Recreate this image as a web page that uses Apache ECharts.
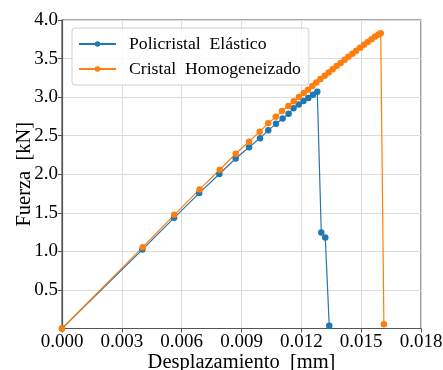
<!DOCTYPE html>
<html>
<head>
<meta charset="utf-8">
<script src="https://cdn.jsdelivr.net/npm/echarts@6/dist/echarts.min.js"></script>
<style>html,body{margin:0;padding:0;background:#fff}#c{width:443px;height:370px}</style>
</head>
<body>
<div id="c"></div>
<script>
var seriesNames = ['Policristal  Elástico', 'Cristal  Homogeneizado'];
var policristalX = [0, 0.00403, 0.00562, 0.00688, 0.00789, 0.00871, 0.00938, 0.00993, 0.01034, 0.01073, 0.01106, 0.01136, 0.01161, 0.01187, 0.01211, 0.01235, 0.01258, 0.01280, 0.01300, 0.01320, 0.01340];
var policristalY = [0, 1.023, 1.435, 1.756, 2.003, 2.204, 2.349, 2.468, 2.569, 2.656, 2.723, 2.786, 2.855, 2.905, 2.950, 2.990, 3.030, 3.070, 1.244, 1.179, 0.036];
var cristalX = [0, 0.00405, 0.00563, 0.00690, 0.00791, 0.00871, 0.00938, 0.00991, 0.01034, 0.01072, 0.01103, 0.01135, 0.01162, 0.01188, 0.01212, 0.01233, 0.01255, 0.01275, 0.01296, 0.01317, 0.01337, 0.01357, 0.01377, 0.01397, 0.01417, 0.01436, 0.01456, 0.01475, 0.01495, 0.01514, 0.01533, 0.01552, 0.01570, 0.01587, 0.01598, 0.01614];
var cristalY = [0, 1.055, 1.474, 1.803, 2.058, 2.266, 2.422, 2.552, 2.660, 2.747, 2.820, 2.886, 2.945, 3.003, 3.055, 3.097, 3.145, 3.190, 3.235, 3.278, 3.320, 3.362, 3.403, 3.444, 3.484, 3.524, 3.563, 3.602, 3.641, 3.680, 3.716, 3.752, 3.787, 3.812, 3.829, 0.055];
var xTicks = {min: 0, max: 0.018, interval: 0.003};
var yTicks = {min: 0, max: 4.0, interval: 0.5};

function pairs(xs, ys) { return xs.map(function (x, i) { return [x, ys[i]]; }); }

var font = 'Liberation Serif';
var chart = echarts.init(document.getElementById('c'), null, {renderer: 'canvas'});
chart.setOption({
  animation: false,
  backgroundColor: '#fff',
  grid: {left: 62, right: 22, top: 20, bottom: 41.5, outerBoundsMode: 'none', containLabel: false,
         show: true, borderColor: '#555', borderWidth: 1.2, backgroundColor: 'transparent'},
  legend: {
    data: seriesNames,
    orient: 'vertical',
    left: 72, top: 28,
    padding: [7, 8, 7, 6],
    itemGap: 7,
    itemWidth: 37, itemHeight: 7,
    backgroundColor: 'rgba(255,255,255,0.85)',
    borderColor: '#d0d0d0', borderWidth: 1, borderRadius: 3,
    textStyle: {fontFamily: font, fontSize: 17.7, color: '#000', padding: [0, 0, 0, 8]}
  },
  xAxis: {
    type: 'value', min: xTicks.min, max: xTicks.max, interval: xTicks.interval,
    name: 'Desplazamiento  [mm]', nameLocation: 'middle', nameGap: 24, nameMoveOverlap: false,
    nameTextStyle: {fontFamily: font, fontSize: 20.5, color: '#000'},
    axisLine: {show: true, onZero: false, lineStyle: {color: '#555', width: 1.2}},
    axisTick: {show: true, inside: false, length: 4, lineStyle: {color: '#555'}},
    axisLabel: {fontFamily: font, fontSize: 19, color: '#000', margin: 4, formatter: function (v) { return v.toFixed(3); }},
    splitLine: {show: true, lineStyle: {color: '#dcdcdc', width: 1}}
  },
  yAxis: {
    type: 'value', min: yTicks.min, max: yTicks.max, interval: yTicks.interval,
    name: 'Fuerza  [kN]', nameLocation: 'middle', nameGap: 27, nameRotate: 90, nameMoveOverlap: false,
    nameTextStyle: {fontFamily: font, fontSize: 20.5, color: '#000'},
    axisLine: {show: true, onZero: false, lineStyle: {color: '#555', width: 1.2}},
    axisTick: {show: true, inside: false, length: 4, lineStyle: {color: '#555'}},
    axisLabel: {fontFamily: font, fontSize: 19, color: '#000', margin: 4, showMinLabel: false, formatter: function (v) { return v.toFixed(1); }},
    splitLine: {show: true, lineStyle: {color: '#dcdcdc', width: 1}}
  },
  series: [
    {name: seriesNames[0], type: 'line', data: pairs(policristalX, policristalY), symbol: 'circle', symbolSize: 6.5, showAllSymbol: true,
     itemStyle: {color: '#1f77b4'}, lineStyle: {color: '#1f77b4', width: 1.2}},
    {name: seriesNames[1], type: 'line', data: pairs(cristalX, cristalY), symbol: 'circle', symbolSize: 6.5, showAllSymbol: true,
     itemStyle: {color: '#ff7f0e'}, lineStyle: {color: '#ff7f0e', width: 1.2}}
  ]
});
</script>
</body>
</html>
